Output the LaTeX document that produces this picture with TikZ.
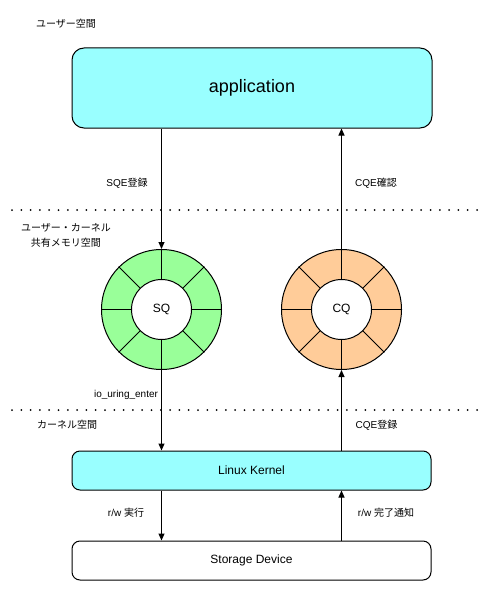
\documentclass[tikz,border=0pt]{standalone}
\usepackage{fontspec}
\setmainfont{Liberation Sans}
\newfontfamily\jp{Noto Sans CJK JP}
\usetikzlibrary{arrows.meta,positioning}
\definecolor{appcyan}{HTML}{99FFFF}
\definecolor{sqgreen}{HTML}{99FF99}
\definecolor{cqorange}{HTML}{FFCC99}

\begin{document}
\begin{tikzpicture}
  [x=1pt,y=-1pt,
   block/.style={rectangle,rounded corners=8pt,draw=black,line width=1pt,
                 minimum width=359pt,minimum height=39pt,inner sep=0pt,
                 font=\fontsize{12}{14}\selectfont},
   ring/.style={circle,draw=black,line width=1pt,inner sep=0pt,
                minimum size=120pt},
   hub/.style={circle,draw=black,fill=white,line width=1pt,inner sep=0pt,
               minimum size=60pt,font=\fontsize{12}{14}\selectfont},
   note/.style={inner sep=0pt,align=center,font=\fontsize{10}{15}\selectfont},
   flow/.style={-{Triangle[length=7pt,width=6pt]},line width=1pt},
   border/.style={line width=2pt,dash pattern=on 0pt off 9.3pt,line cap=round}]
  \useasboundingbox (0,0) rectangle (503,591);

  % boxes
  \node[block,fill=appcyan,minimum width=360pt,minimum height=80pt,
        rounded corners=12pt,font=\fontsize{18}{20}\selectfont]
                           (app)     at (252,88)    {application};
  \node[block,fill=appcyan] (kernel)  at (251.5,470.5) {Linux Kernel};
  \node[block,fill=white]   (storage) at (251.5,560.5) {Storage Device};

  % rings
  \node[ring,fill=sqgreen]  (sq)    at (161.5,309.5) {};
  \node[hub]                (sqhub) at (sq.center)   {SQ};
  \node[ring,fill=cqorange] (cq)    at (341.5,309.5) {};
  \node[hub]                (cqhub) at (cq.center)   {CQ};
  \foreach \a in {0,45,...,315} {
    \draw[line width=1pt] (sqhub.\a) -- (sq.\a);
    \draw[line width=1pt] (cqhub.\a) -- (cq.\a);
  }

  % space borders
  \coordinate (b1w) at (12,210);
  \coordinate (b1e) at (486,210);
  \coordinate (b2w) at (12,410);
  \coordinate (b2e) at (486,410);
  \draw[border] (b1w) -- (b1e);
  \draw[border] (b2w) -- (b2e);

  % space names
  \node[note] (userspace)   at (66,24)    {\jp ユーザー空間};
  \node[note] (sharedspace) at (66,235.5) {\jp ユーザー・カーネル\\\jp 共有メモリ空間};
  \node[note] (kernelspace) at (67,425)   {\jp カーネル空間};

  % flows
  \draw[flow] (app.south -| sq) -- (sq.north);
  \draw[flow] (cq.north) -- (app.south -| cq);
  \draw[flow] (sq.south) -- (kernel.north -| sq);
  \draw[flow] (kernel.north -| cq) -- (cq.south);
  \draw[flow] (kernel.south -| sq) -- (storage.north -| sq);
  \draw[flow] (storage.north -| cq) -- (kernel.south -| cq);

  \node[note] (sqe)    at (127,183)   {SQE{\jp 登録}};
  \node[note] (cqechk) at (376,183)   {CQE{\jp 確認}};
  \node[note] (enter)  at (126,395)   {io\_uring\_enter};
  \node[note] (cqereg) at (376.5,425) {CQE{\jp 登録}};
  \node[note] (rwexec) at (126,513)   {r/w {\jp 実行}};
  \node[note] (rwdone) at (386,513)   {r/w {\jp 完了通知}};
\end{tikzpicture}
\end{document}
